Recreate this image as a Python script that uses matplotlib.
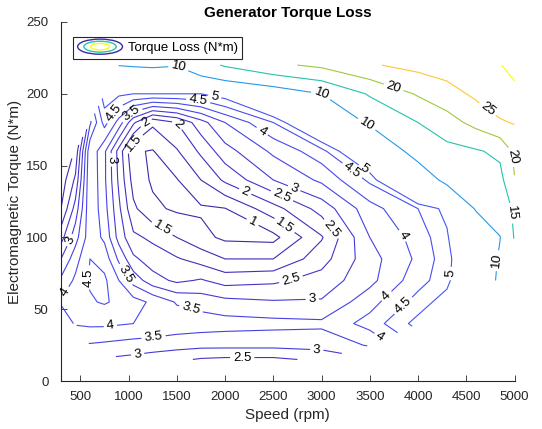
import numpy as np
import matplotlib
matplotlib.use("Agg")
import matplotlib.pyplot as plt
from matplotlib.colors import LinearSegmentedColormap
from matplotlib.patches import Ellipse
from matplotlib.legend_handler import HandlerBase
from matplotlib.lines import Line2D

nan = np.nan
# ---- data: grid of torque loss (N*m) ----
speed = [300, 450, 600, 750, 900, 1050, 1250, 1500, 1750, 2000, 2500, 3000,
         3500, 4000, 4300, 4600, 4850, 5000]
torque = [15, 25, 40, 55, 70, 85, 100, 120, 140, 160, 180, 200, 220]

# one list per speed column, values from low torque to high torque
loss_300 = [nan, nan, 3.7, 4.05, 3.6, 3.0, 2.3, 1.5, 1.2, nan, nan, nan, nan]
loss_450 = [nan, nan, 4.05, 4.3, 4.1, 3.8, 3.3, 2.7, 2.1, 1.6, nan, nan, nan]
loss_600 = [nan, 3.45, 4.1, 4.45, 4.55, 4.5, 4.3, 4.4, 4.45, 4.4, 3.4, nan, nan]
loss_750 = [nan, 3.4, 4.1, 4.55, 4.6, 4.3, 3.9, 3.7, 3.6, 3.6, 4.7, 5.3, nan]
loss_900 = [2.9, 3.35, 4.05, 4.4, 4.0, 3.4, 2.8, 2.6, 2.4, 2.3, 3.8, 5.1, 10.1]
loss_1050 = [2.85, 3.3, 4.0, 4.2, 3.3, 2.6, 2.1, 1.6, 1.3, 1.05, 2.6, 5.0, 10.3]
loss_1250 = [2.75, 3.25, 3.95, 3.9, 2.7, 2.25, 1.9, 1.1, 0.93, 0.97, 1.6, 5.0, 10.5]
loss_1500 = [2.6, 3.2, 3.8, 3.45, 2.4, 2.05, 1.5, 0.92, 0.97, 1.45, 2.0, 5.0, 10.2]
loss_1750 = [2.45, 3.15, 3.75, 3.3, 2.55, 1.8, 1.15, 0.93, 1.5, 2.1, 2.8, 5.0, 13.0]
loss_2000 = [2.4, 3.15, 3.7, 3.15, 2.3, 1.5, 0.9, 0.98, 2.1, 2.8, 3.5, 5.3, 15.5]
loss_2500 = [2.4, 3.15, 3.65, 3.05, 2.4, 1.5, 0.85, 1.8, 3.0, 3.6, 4.5, 7.0, 19.0]
loss_3000 = [2.6, 3.2, 3.6, 3.05, 2.7, 2.3, 1.95, 2.7, 3.6, 4.3, 6.5, 10.0, 21.0]
loss_3500 = [nan, 3.55, 4.2, 3.8, 3.35, 3.3, 3.5, 3.8, 4.6, 6.2, 10.5, 15.5, 24.5]
loss_4000 = [nan, nan, 5.2, 4.7, 4.3, 4.1, 4.2, 4.5, 7.5, 11.5, 15.0, 20.5, 26.5]
loss_4300 = [nan, nan, nan, 5.3, 4.8, 4.8, 4.9, 5.2, 11.0, 13.5, 18.0, 23.0, 27.5]
loss_4600 = [nan, nan, nan, nan, 6.5, 6.0, 6.8, 10.3, 12.8, 14.5, 21.5, 26.0, 28.5]
loss_4850 = [nan, nan, nan, nan, 10.8, 10.5, 9.9, 12.0, 13.5, 16.0, 24.5, 28.0, 29.8]
loss_5000 = [nan, nan, nan, nan, nan, nan, 15.3, 15.8, 19.8, 21.0, 25.3, 28.8, 31.5]

levels = [1, 1.5, 2, 2.5, 3, 3.5, 4, 4.5, 5, 10, 15, 20, 25, 30]
x_ticks = [500, 1000, 1500, 2000, 2500, 3000, 3500, 4000, 4500, 5000]
y_ticks = [0, 50, 100, 150, 200, 250]

# approximate places where the reference puts its inline labels (speed, torque)
label_spots = [
    (1514, 218), (3007, 203), (3765, 208), (3454, 177), (4729, 190),
    (4958, 156), (4990, 117), (4781, 84), (3454, 149), (3277, 143), (1721, 194),
    (1887, 196), (2395, 175), (2727, 136), (2603, 131), (2209, 132), (1534, 180),
    (1192, 178), (1047, 166), (1016, 187), (839, 187), (839, 154),
    (2281, 110), (1400, 112), (2624, 109), (3070, 104), (964, 74),
    (2676, 72), (2904, 58), (1638, 48), (622, 72), (362, 61), (393, 98),
    (808, 41), (1254, 33), (1088, 22), (2178, 17), (2950, 21),
    (3609, 31), (3692, 58), (3868, 51), (4300, 75), (3920, 105)]

columns = [loss_300, loss_450, loss_600, loss_750, loss_900, loss_1050, loss_1250,
           loss_1500, loss_1750, loss_2000, loss_2500, loss_3000, loss_3500,
           loss_4000, loss_4300, loss_4600, loss_4850, loss_5000]
Z = np.array(columns, dtype=float).T
Zm = np.ma.masked_invalid(Z)
S, T = np.meshgrid(speed, torque)

# ---- parula-like colormap ----
parula_pts = [
    (0.2422, 0.1504, 0.6603), (0.2647, 0.1978, 0.7952), (0.2803, 0.2782, 0.9221),
    (0.2795, 0.3447, 0.9717), (0.2440, 0.4358, 0.9988), (0.1786, 0.5289, 0.9682),
    (0.1540, 0.5902, 0.9218), (0.1113, 0.6635, 0.8763), (0.0297, 0.7082, 0.8163),
    (0.0433, 0.7411, 0.7394), (0.1938, 0.7758, 0.6251), (0.2906, 0.7973, 0.5188),
    (0.4456, 0.8024, 0.3909), (0.6174, 0.7876, 0.2612), (0.7738, 0.7598, 0.1646),
    (0.9035, 0.7330, 0.1774), (0.9956, 0.7434, 0.2371), (0.9892, 0.8136, 0.1885),
    (0.9610, 0.8890, 0.1537), (0.9691, 0.9606, 0.1064), (0.9769, 0.9839, 0.0805)]
parula = LinearSegmentedColormap.from_list("parula", parula_pts)
lo, hi = min(levels), max(levels)
line_colors = [parula((lv - lo) / (hi - lo)) for lv in levels]

plt.rcParams['font.family'] = ['Liberation Sans', 'DejaVu Sans']
fig = plt.figure(figsize=(5.42, 4.29), dpi=100)
ax = fig.add_axes([61 / 542, 1 - 381 / 429, (514.5 - 61) / 542, (381 - 22) / 429])

cs = ax.contour(S, T, Zm, levels=levels, colors=line_colors, linewidths=0.8)
ax.set_xlim(300, 5000)
ax.set_ylim(0, 250)
ax.clabel(cs, levels=levels[:-1], inline=True, fontsize=9.5, fmt='%g',
          colors='black', inline_spacing=3, manual=label_spots)
for t in cs.labelTexts:
    t.set_clip_on(False)

ax.set_xticks(x_ticks)
ax.set_yticks(y_ticks)
for sp in ['top', 'right']:
    ax.spines[sp].set_visible(False)
for sp in ['left', 'bottom']:
    ax.spines[sp].set_color('#262626')
    ax.spines[sp].set_linewidth(0.8)
ax.tick_params(direction='in', length=4, width=0.6, colors='#262626',
               labelsize=9.5)
ax.tick_params(axis='x', pad=7)
ax.tick_params(axis='y', pad=9)

ax.set_title('Generator Torque Loss', fontsize=11, fontweight='bold', pad=3.5)
ax.set_xlabel('Speed (rpm)', fontsize=11, color='#262626', labelpad=4)
ax.set_ylabel('Electromagnetic Torque (N*m)', fontsize=11, color='#262626', labelpad=3)


class ContourIconHandler(HandlerBase):
    def create_artists(self, legend, orig_handle, xdescent, ydescent,
                       width, height, fontsize, trans):
        cx = width / 2 - xdescent
        cy = height / 2 - ydescent
        arts = []
        for frac, col in [(1.0, line_colors[0]), (0.72, line_colors[10]), (0.42, line_colors[-1])]:
            e = Ellipse((cx, cy), width * frac, height * 1.5 * frac, fill=False,
                        edgecolor=col, lw=1.0, transform=trans)
            arts.append(e)
        return arts


proxy = Line2D([], [])
leg = ax.legend([proxy], ['Torque Loss (N*m)'], loc='upper left',
                bbox_to_anchor=((73 - 61) / 453.5, (381 - 37) / 359),
                borderaxespad=0, fontsize=9.5, handlelength=3.4, handleheight=0.8,
                handletextpad=0.4, borderpad=0.35, fancybox=False, framealpha=1,
                edgecolor='#262626', handler_map={Line2D: ContourIconHandler()})
leg.get_frame().set_linewidth(0.8)

fig.savefig('out.png', dpi=100)
